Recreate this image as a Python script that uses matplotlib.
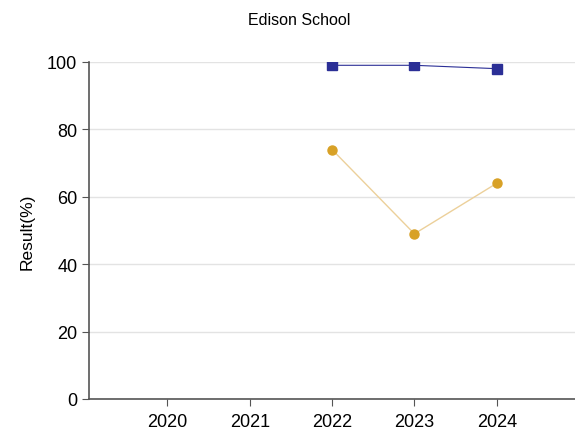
import matplotlib
matplotlib.use("Agg")
from matplotlib import pyplot as plt

years = [2020, 2021, 2022, 2023, 2024]
blue_years = [2022, 2023, 2024]
blue_values = [99, 99, 98]
gold_years = [2022, 2023, 2024]
gold_values = [74, 49, 64]

plt.rcParams['font.family'] = ['Liberation Sans', 'DejaVu Sans']

fig = plt.figure(figsize=(5.75, 4.31), dpi=100)
ax = fig.add_axes([0.155, 0.072, 0.845, 0.782])

# light horizontal grid only
ax.grid(axis='y', color='#e3e3e3', linewidth=1)
ax.set_axisbelow(True)

ax.plot(blue_years, blue_values, color='#2b2f96', linewidth=0.8,
        marker='s', markersize=7.5, zorder=3)
ax.plot(gold_years, gold_values, color='#ecd09a', linewidth=1,
        marker='o', markersize=6.5, markerfacecolor='#d8a126',
        markeredgecolor='#d8a126', zorder=3)

ax.set_xlim(2019.05, 2024.95)
ax.set_ylim(0, 100)
ax.set_xticks(years)
ax.set_xticklabels([str(y) for y in years])
ax.set_yticks([0, 20, 40, 60, 80, 100])

for s in ['top', 'right']:
    ax.spines[s].set_visible(False)
for s in ['left', 'bottom']:
    ax.spines[s].set_color('#555555')
    ax.spines[s].set_linewidth(1.2)

ax.tick_params(axis='both', labelsize=13, color='#555555', length=5, width=0.8)
ax.tick_params(axis='x', pad=5)
ax.set_ylabel('Result(%)', fontsize=12.5, labelpad=9)

fig.text(0.52, 0.953, 'Edison School', ha='center', va='center', fontsize=11.5)

fig.savefig('out.png', dpi=100)
